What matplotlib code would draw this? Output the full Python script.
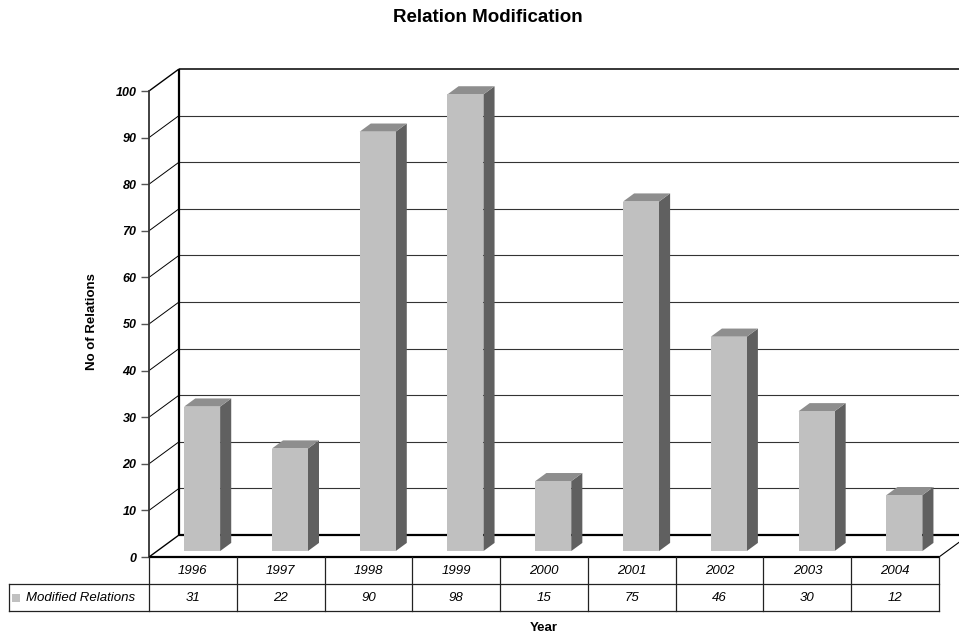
import matplotlib
matplotlib.use("Agg")
import matplotlib.pyplot as plt
from matplotlib.patches import Polygon
import matplotlib.transforms as mtransforms

# ---- data ----
years = ["1996", "1997", "1998", "1999", "2000", "2001", "2002", "2003", "2004"]
values = [31, 22, 90, 98, 15, 75, 46, 30, 12]
series_name = "Modified Relations"
yticks = list(range(0, 101, 10))
title = "Relation Modification"
xlabel = "Year"
ylabel = "No of Relations"

W, H = 959, 637
FONT = "Liberation Sans"
plt.rcParams['font.family'] = [FONT, 'DejaVu Sans']

fig = plt.figure(figsize=(W / 100, H / 100), dpi=100)

# front plane of the plot: x 149..939 px, y value 0 at 557 px, 100 at 91 px
x0p, x1p, y0p, y1p = 149, 939, 557, 91
ax = fig.add_axes([x0p / W, 1 - y0p / H, (x1p - x0p) / W, (y0p - y1p) / H])
n = len(years)
ax.set_xlim(0, n)
ax.set_ylim(0, 100)
for s in ["top", "right", "bottom"]:
    ax.spines[s].set_visible(False)
ax.spines["left"].set_linewidth(1.3)
ax.spines["left"].set_color("#333333")
ax.set_xticks([])
ax.set_yticks(yticks)
ax.set_yticklabels([str(t) for t in yticks], fontsize=9, fontweight="bold", fontstyle="italic")
ax.tick_params(axis="y", direction="out", length=6, width=1.0, color="#555555", pad=3)
ax.patch.set_visible(False)

# depth offset (full depth) in data units
px_per_x = (x1p - x0p) / n
px_per_y = (y0p - y1p) / 100.0
DX = 30 / px_per_x
DY = 22 / px_per_y
XR = n + 2  # far right (clipped by figure)

def line(xs, ys, **kw):
    ax.plot(xs, ys, clip_on=False, solid_capstyle="butt", **kw)

# gridlines on left wall and back wall
for t in yticks[1:-1]:
    line([0, DX], [t, t + DY], color="#000000", lw=0.7, zorder=1)
    line([DX, XR], [t + DY, t + DY], color="#333333", lw=0.8, zorder=1)
# frame of walls/floor
line([0, DX], [100, 100 + DY], color="black", lw=1.0, zorder=1)
line([DX, XR], [100 + DY, 100 + DY], color="black", lw=1.1, zorder=1)
line([0, DX], [0, DY], color="black", lw=1.0, zorder=1)
line([DX, DX], [DY, 100 + DY], color="black", lw=1.6, zorder=1)
line([DX, XR], [DY, DY], color="black", lw=1.6, zorder=1)
line([0, n], [0, 0], color="black", lw=1.6, zorder=3)
line([n, n + DX], [0, DY], color="black", lw=0.8, zorder=1)

# bars
d0, d1 = 0.27, 0.64
bw = 0.41
for i, v in enumerate(values):
    xl = i + 0.308
    xr = xl + bw
    a0x, a0y = d0 * DX, d0 * DY
    a1x, a1y = d1 * DX, d1 * DY
    front = [(xl + a0x, a0y), (xr + a0x, a0y), (xr + a0x, v + a0y), (xl + a0x, v + a0y)]
    side = [(xr + a0x, a0y), (xr + a1x, a1y), (xr + a1x, v + a1y), (xr + a0x, v + a0y)]
    top = [(xl + a0x, v + a0y), (xr + a0x, v + a0y), (xr + a1x, v + a1y), (xl + a1x, v + a1y)]
    ax.add_patch(Polygon(side, closed=True, facecolor="#606060", edgecolor="none", zorder=2, clip_on=False))
    ax.add_patch(Polygon(top, closed=True, facecolor="#8e8e8e", edgecolor="none", zorder=2, clip_on=False))
    ax.add_patch(Polygon(front, closed=True, facecolor="#c0c0c0", edgecolor="none", zorder=2, clip_on=False))

# ---- data table (pixel-coordinate overlay) ----
tax = fig.add_axes([0, 0, 1, 1])
tax.set_xlim(0, W)
tax.set_ylim(H, 0)
tax.axis("off")
tax.patch.set_visible(False)
r0, r1, r2 = 557, 584, 611
colw = (x1p - x0p) / n
lc = "#222222"
tax.plot([9, x1p], [r1, r1], color=lc, lw=0.9)
tax.plot([9, x1p], [r2, r2], color=lc, lw=0.9)
tax.plot([9, 9], [r1, r2], color=lc, lw=0.9)
for k in range(n + 1):
    xx = x0p + k * colw
    tax.plot([xx, xx], [r0, r2], color=lc, lw=0.9)
for k, (yr, v) in enumerate(zip(years, values)):
    cx = x0p + (k + 0.5) * colw
    tax.text(cx, (r0 + r1) / 2 + 0.5, yr, ha="center", va="center", fontsize=9.5, fontstyle="italic")
    tax.text(cx, (r1 + r2) / 2 + 0.5, str(v), ha="center", va="center", fontsize=9.5, fontstyle="italic")
tax.add_patch(plt.Rectangle((12, 594), 8, 8, facecolor="#c0c0c0", edgecolor="none"))
tax.text(26, (r1 + r2) / 2 + 0.5, series_name, ha="left", va="center", fontsize=9.5, fontstyle="italic")

# titles
tax.text(W / 2 + 8, 18, title, ha="center", va="center", fontsize=13.5, fontweight="bold")
tax.text((x0p + x1p) / 2, 628, xlabel, ha="center", va="center", fontsize=9.5, fontweight="bold")
tax.text(92, 322, ylabel, ha="center", va="center", rotation=90, fontsize=9.5, fontweight="bold")

fig.savefig("out.png", dpi=100)
